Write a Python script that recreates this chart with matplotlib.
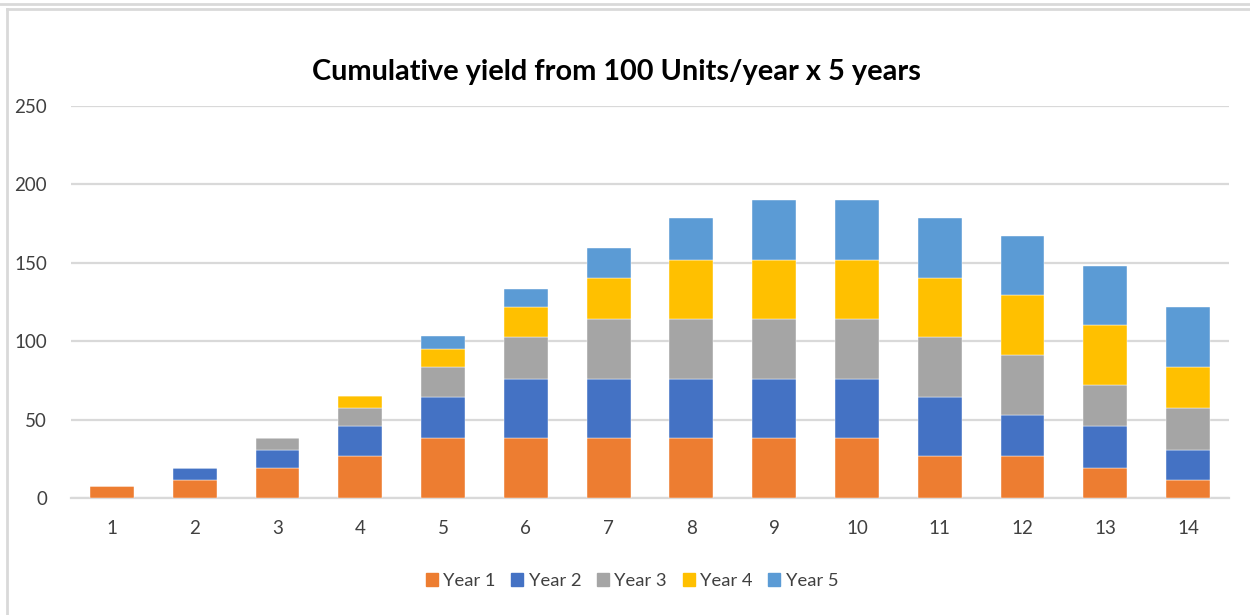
import matplotlib
matplotlib.use("Agg")
import matplotlib.pyplot as plt
from matplotlib.lines import Line2D
import numpy as np

plt.rcParams['font.family'] = ['Lato', 'DejaVu Sans']

categories = [str(i) for i in range(1, 15)]
series_names = ["Year 1", "Year 2", "Year 3", "Year 4", "Year 5"]
year1 = [7.9, 11.5, 19, 26.6, 38, 38, 38, 38, 38, 38, 26.6, 26.6, 19, 11.5]
year2 = [0, 7.9, 11.5, 19, 26.6, 38, 38, 38, 38, 38, 38, 26.6, 26.6, 19]
year3 = [0, 0, 7.9, 11.5, 19, 26.6, 38, 38, 38, 38, 38, 38, 26.6, 26.6]
year4 = [0, 0, 0, 7.9, 11.5, 19, 26.6, 38, 38, 38, 38, 38, 38, 26.6]
year5 = [0, 0, 0, 0, 7.9, 11.5, 19, 26.6, 38, 38, 38, 38, 38, 38]
colors = ["#ED7D31", "#4472C4", "#A5A5A5", "#FFC000", "#5B9BD5"]
yticks = [0, 50, 100, 150, 200, 250]

W, H = 1250, 615
fig = plt.figure(figsize=(W / 100, H / 100), dpi=100)
fig.patch.set_facecolor("white")

# frame lines of the surrounding container
fig.add_artist(Line2D([0, 1], [1 - 3.5 / H, 1 - 3.5 / H], color="#d9d9d9", lw=2, transform=fig.transFigure))
fig.add_artist(Line2D([7 / W, 1], [1 - 9 / H, 1 - 9 / H], color="#d9d9d9", lw=2, transform=fig.transFigure))
fig.add_artist(Line2D([7 / W, 7 / W], [0, 1 - 9 / H], color="#d9d9d9", lw=2, transform=fig.transFigure))

left, right = 70.6, 1229.4
top, bottom = 106, 498
ax = fig.add_axes([left / W, 1 - bottom / H, (right - left) / W, (bottom - top) / H])

x = np.arange(len(categories))
data = [year1, year2, year3, year4, year5]
base = np.zeros(len(categories))
for name, vals, c in zip(series_names, data, colors):
    v = np.array(vals, dtype=float)
    ax.bar(x, v, bottom=base, width=0.53, color=c, label=name, zorder=3,
           edgecolor="white", linewidth=0.3)
    base += v

ax.set_xlim(-0.5, len(categories) - 0.5)
ax.set_ylim(0, 250)
ax.set_yticks(yticks)
ax.set_yticklabels([str(t) for t in yticks])
ax.set_xticks(x)
ax.set_xticklabels(categories)
ax.yaxis.grid(True, color="#d9d9d9", linewidth=1.6, zorder=0)
ax.set_axisbelow(True)
for s in ["top", "right", "left"]:
    ax.spines[s].set_visible(False)
ax.spines["bottom"].set_color("#d9d9d9")
ax.spines["bottom"].set_linewidth(1.6)
ax.tick_params(axis="both", length=0, labelsize=13.5, colors="#404040")
ax.tick_params(axis="x", pad=16)
ax.tick_params(axis="y", pad=17)

fig.text(616 / W, 1 - 72 / H, "Cumulative yield from 100 Units/year x 5 years",
         ha="center", va="center", fontsize=20.8, fontweight="bold", color="#000000")

handles = [plt.Rectangle((0, 0), 1, 1, color=c) for c in colors]
fig.legend(handles, series_names, loc="center", bbox_to_anchor=(632 / W, 1 - 581 / H),
           ncol=5, frameon=False, fontsize=13.2, handlelength=0.65, handleheight=0.75,
           handletextpad=0.3, columnspacing=0.85, labelcolor="#404040")

fig.savefig("out.png", dpi=100, facecolor="white")
